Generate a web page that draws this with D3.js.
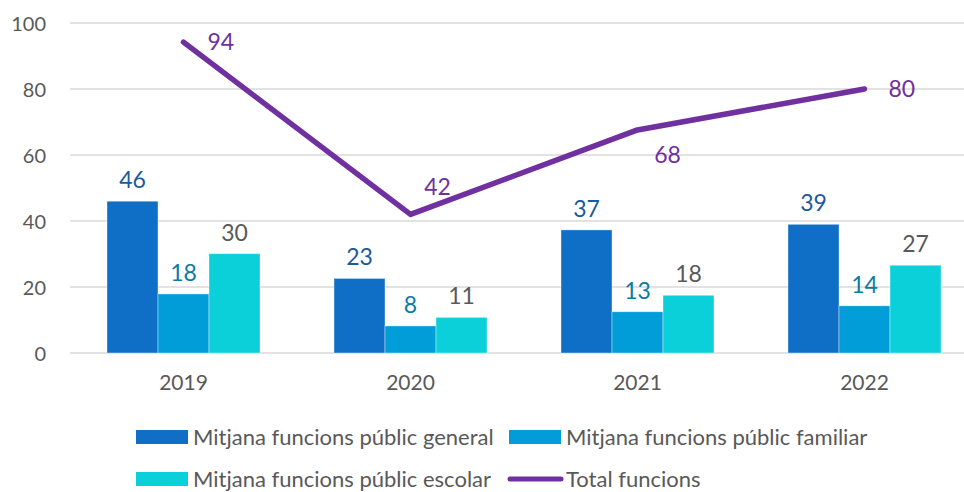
<!DOCTYPE html>
<html>
<head>
<meta charset="utf-8">
<script src="https://cdn.jsdelivr.net/npm/d3@7"></script>
<style>
  html, body { margin: 0; padding: 0; background: #ffffff; }
  svg { display: block; }
  text { font-family: Lato, "Open Sans", sans-serif; }
</style>
</head>
<body>
<svg id="chart" width="964" height="492"></svg>
<script>
// ---- data ----
const years = ["2019", "2020", "2021", "2022"];
const seriesNames = ["Mitjana funcions públic general", "Mitjana funcions públic familiar", "Mitjana funcions públic escolar"];
const general = [46, 22.6, 37.3, 39];
const familiar = [17.9, 8.2, 12.5, 14.3];
const escolar = [30.1, 10.8, 17.5, 26.6];
const total = [94.2, 42, 67.6, 80];
const totalName = "Total funcions";
const yTicks = [0, 20, 40, 60, 80, 100];

// ---- styles ----
const barColors = ["#0F6FC6", "#009DD9", "#0BD0D9"];
const barLabelColors = ["#1B5A9B", "#0B7BA6", "#595959"];
const lineColor = "#7030A0";
const textColor = "#595959";
const gridColor = "#D9D9D9";

const svg = d3.select("#chart");

const x0 = d3.scaleBand().domain(years).range([70, 978]).padding(0);
const step = x0.bandwidth();
const x1 = d3.scaleBand().domain(seriesNames).range([step * 0.163, step * 0.837]).padding(0);
const y = d3.scaleLinear().domain([0, 100]).range([353, 23]);

// gridlines
svg.append("g").selectAll("line").data(yTicks).join("line")
  .attr("x1", 70).attr("x2", 978)
  .attr("y1", d => y(d)).attr("y2", d => y(d))
  .attr("stroke", gridColor).attr("stroke-width", 1.5);

// y axis labels
const yAxis = d3.axisLeft(y).tickValues(yTicks).tickSize(0).tickPadding(0);
const yg = svg.append("g").attr("transform", "translate(46,0)").call(yAxis);
yg.select(".domain").remove();
yg.selectAll("text").attr("fill", textColor).attr("font-size", 20)
  .attr("font-family", "Lato, 'Open Sans', sans-serif").attr("dy", "0.35em");

// x axis labels
const xAxis = d3.axisBottom(x0).tickSize(0).tickPadding(0);
const xg = svg.append("g").attr("transform", "translate(0,375)").call(xAxis);
xg.select(".domain").remove();
xg.selectAll("text").attr("fill", textColor).attr("font-size", 21)
  .attr("font-family", "Lato, 'Open Sans', sans-serif").attr("dy", "0.7em");

// bars
const seriesData = [general, familiar, escolar];
seriesData.forEach((vals, si) => {
  const g = svg.append("g");
  g.selectAll("rect").data(vals).join("rect")
    .attr("x", (d, i) => x0(years[i]) + x1(seriesNames[si]))
    .attr("width", x1.bandwidth())
    .attr("y", d => y(d))
    .attr("height", d => y(0) - y(d))
    .attr("fill", barColors[si])
    .attr("stroke", "#ffffff").attr("stroke-opacity", 0.5).attr("stroke-width", 0.75);
  g.selectAll("text").data(vals).join("text")
    .attr("x", (d, i) => x0(years[i]) + x1(seriesNames[si]) + x1.bandwidth() / 2)
    .attr("y", d => y(d) - 13)
    .attr("text-anchor", "middle")
    .attr("font-size", 23)
    .attr("fill", barLabelColors[si])
    .text(d => d3.format(".0f")(d));
});

// line
const cx = i => x0(years[i]) + step / 2;
const line = d3.line().x((d, i) => cx(i)).y(d => y(d));
svg.append("path").datum(total)
  .attr("d", line)
  .attr("fill", "none")
  .attr("stroke", lineColor)
  .attr("stroke-width", 5.5)
  .attr("stroke-linejoin", "round")
  .attr("stroke-linecap", "round");

// line labels (offsets relative to points)
const lblOff = [[24, 0, "start"], [27, -27, "middle"], [30, 25, "middle"], [24, 0, "start"]];
svg.append("g").selectAll("text").data(total).join("text")
  .attr("x", (d, i) => cx(i) + lblOff[i][0])
  .attr("y", (d, i) => y(d) + lblOff[i][1])
  .attr("dy", "0.35em")
  .attr("text-anchor", (d, i) => lblOff[i][2])
  .attr("font-size", 23)
  .attr("fill", lineColor)
  .text(d => d3.format(".0f")(d));

// legend
const legendItems = [
  { name: seriesNames[0], type: "rect", color: barColors[0], x: 136, y: 437 },
  { name: seriesNames[1], type: "rect", color: barColors[1], x: 509, y: 437 },
  { name: seriesNames[2], type: "rect", color: barColors[2], x: 136, y: 479 },
  { name: totalName, type: "line", color: lineColor, x: 509, y: 479 }
];
const lg = svg.append("g").selectAll("g").data(legendItems).join("g")
  .attr("transform", d => `translate(${d.x},${d.y})`);
lg.filter(d => d.type === "rect").append("rect")
  .attr("x", 0).attr("y", -7).attr("width", 52).attr("height", 14)
  .attr("fill", d => d.color);
lg.filter(d => d.type === "line").append("line")
  .attr("x1", 1).attr("x2", 52).attr("y1", 0).attr("y2", 0)
  .attr("stroke", d => d.color).attr("stroke-width", 5).attr("stroke-linecap", "round");
lg.append("text")
  .attr("x", 57).attr("y", 0).attr("dy", "0.35em")
  .attr("font-size", 22)
  .attr("fill", textColor)
  .text(d => d.name);
</script>
</body>
</html>
